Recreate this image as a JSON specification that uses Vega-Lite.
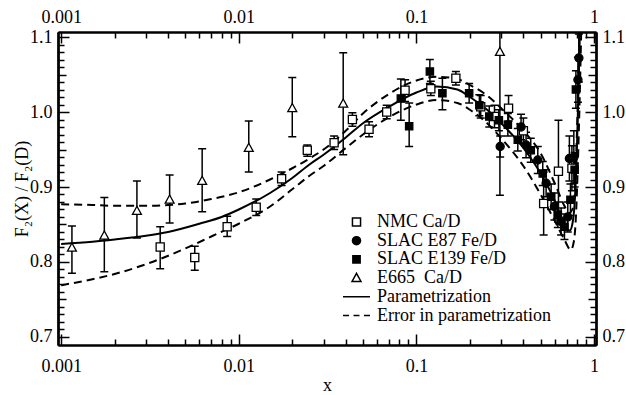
{
  "$schema": "https://vega.github.io/schema/vega-lite/v6.json",
  "width": 538,
  "height": 313,
  "autosize": {"type": "none"},
  "padding": {"left": 58, "top": 32, "right": 30, "bottom": 50},
  "background": "white",
  "config": {
    "view": {"stroke": null},
    "axis": {
      "domainColor": "black", "domainWidth": 2, "tickColor": "black", "tickWidth": 1.5,
      "labelFont": "Liberation Serif", "labelFontSize": 18, "labelColor": "black", "grid": false,
      "titleFont": "Liberation Serif", "titleFontSize": 18, "titleFontWeight": "normal", "titleColor": "black"
    }
  },
  "datasets": {
    "curves": [
      {"x": 0.001, "y": 0.824, "curve": "param"},
      {"x": 0.0015, "y": 0.827, "curve": "param"},
      {"x": 0.002, "y": 0.830, "curve": "param"},
      {"x": 0.003, "y": 0.835, "curve": "param"},
      {"x": 0.004, "y": 0.840, "curve": "param"},
      {"x": 0.006, "y": 0.851, "curve": "param"},
      {"x": 0.008, "y": 0.860, "curve": "param"},
      {"x": 0.01, "y": 0.870, "curve": "param"},
      {"x": 0.015, "y": 0.892, "curve": "param"},
      {"x": 0.02, "y": 0.912, "curve": "param"},
      {"x": 0.025, "y": 0.930, "curve": "param"},
      {"x": 0.03, "y": 0.943, "curve": "param"},
      {"x": 0.04, "y": 0.966, "curve": "param"},
      {"x": 0.05, "y": 0.985, "curve": "param"},
      {"x": 0.07, "y": 1.007, "curve": "param"},
      {"x": 0.1, "y": 1.026, "curve": "param"},
      {"x": 0.13, "y": 1.034, "curve": "param"},
      {"x": 0.17, "y": 1.030, "curve": "param"},
      {"x": 0.2, "y": 1.020, "curve": "param"},
      {"x": 0.25, "y": 1.003, "curve": "param"},
      {"x": 0.3, "y": 0.985, "curve": "param"},
      {"x": 0.4, "y": 0.952, "curve": "param"},
      {"x": 0.5, "y": 0.918, "curve": "param"},
      {"x": 0.6, "y": 0.882, "curve": "param"},
      {"x": 0.66, "y": 0.858, "curve": "param"},
      {"x": 0.7, "y": 0.845, "curve": "param"},
      {"x": 0.73, "y": 0.842, "curve": "param"},
      {"x": 0.76, "y": 0.855, "curve": "param"},
      {"x": 0.78, "y": 0.885, "curve": "param"},
      {"x": 0.8, "y": 0.950, "curve": "param"},
      {"x": 0.815, "y": 1.02, "curve": "param"},
      {"x": 0.83, "y": 1.12, "curve": "param"},

      {"x": 0.001, "y": 0.877, "curve": "upper"},
      {"x": 0.0015, "y": 0.876, "curve": "upper"},
      {"x": 0.002, "y": 0.875, "curve": "upper"},
      {"x": 0.003, "y": 0.875, "curve": "upper"},
      {"x": 0.004, "y": 0.876, "curve": "upper"},
      {"x": 0.005, "y": 0.878, "curve": "upper"},
      {"x": 0.007, "y": 0.884, "curve": "upper"},
      {"x": 0.01, "y": 0.893, "curve": "upper"},
      {"x": 0.015, "y": 0.910, "curve": "upper"},
      {"x": 0.02, "y": 0.925, "curve": "upper"},
      {"x": 0.025, "y": 0.938, "curve": "upper"},
      {"x": 0.03, "y": 0.950, "curve": "upper"},
      {"x": 0.04, "y": 0.975, "curve": "upper"},
      {"x": 0.05, "y": 0.998, "curve": "upper"},
      {"x": 0.07, "y": 1.024, "curve": "upper"},
      {"x": 0.1, "y": 1.042, "curve": "upper"},
      {"x": 0.13, "y": 1.047, "curve": "upper"},
      {"x": 0.17, "y": 1.044, "curve": "upper"},
      {"x": 0.2, "y": 1.036, "curve": "upper"},
      {"x": 0.25, "y": 1.022, "curve": "upper"},
      {"x": 0.3, "y": 1.005, "curve": "upper"},
      {"x": 0.4, "y": 0.975, "curve": "upper"},
      {"x": 0.5, "y": 0.945, "curve": "upper"},
      {"x": 0.6, "y": 0.905, "curve": "upper"},
      {"x": 0.68, "y": 0.875, "curve": "upper"},
      {"x": 0.72, "y": 0.865, "curve": "upper"},
      {"x": 0.76, "y": 0.872, "curve": "upper"},
      {"x": 0.78, "y": 0.900, "curve": "upper"},
      {"x": 0.8, "y": 0.970, "curve": "upper"},
      {"x": 0.82, "y": 1.060, "curve": "upper"},
      {"x": 0.835, "y": 1.13, "curve": "upper"},

      {"x": 0.001, "y": 0.769, "curve": "lower"},
      {"x": 0.0015, "y": 0.777, "curve": "lower"},
      {"x": 0.002, "y": 0.784, "curve": "lower"},
      {"x": 0.003, "y": 0.797, "curve": "lower"},
      {"x": 0.005, "y": 0.818, "curve": "lower"},
      {"x": 0.007, "y": 0.834, "curve": "lower"},
      {"x": 0.01, "y": 0.851, "curve": "lower"},
      {"x": 0.015, "y": 0.874, "curve": "lower"},
      {"x": 0.02, "y": 0.897, "curve": "lower"},
      {"x": 0.025, "y": 0.915, "curve": "lower"},
      {"x": 0.03, "y": 0.928, "curve": "lower"},
      {"x": 0.04, "y": 0.952, "curve": "lower"},
      {"x": 0.05, "y": 0.970, "curve": "lower"},
      {"x": 0.07, "y": 0.993, "curve": "lower"},
      {"x": 0.1, "y": 1.010, "curve": "lower"},
      {"x": 0.13, "y": 1.016, "curve": "lower"},
      {"x": 0.17, "y": 1.012, "curve": "lower"},
      {"x": 0.2, "y": 1.003, "curve": "lower"},
      {"x": 0.25, "y": 0.985, "curve": "lower"},
      {"x": 0.3, "y": 0.965, "curve": "lower"},
      {"x": 0.4, "y": 0.928, "curve": "lower"},
      {"x": 0.5, "y": 0.890, "curve": "lower"},
      {"x": 0.6, "y": 0.855, "curve": "lower"},
      {"x": 0.68, "y": 0.830, "curve": "lower"},
      {"x": 0.74, "y": 0.816, "curve": "lower"},
      {"x": 0.77, "y": 0.828, "curve": "lower"},
      {"x": 0.79, "y": 0.860, "curve": "lower"},
      {"x": 0.81, "y": 0.930, "curve": "lower"},
      {"x": 0.83, "y": 1.020, "curve": "lower"},
      {"x": 0.85, "y": 1.13, "curve": "lower"}
    ],
    "pts": [
      {"series": "E665 Ca/D", "x": 0.00115, "y": 0.819, "lo": 0.785, "hi": 0.848},
      {"series": "E665 Ca/D", "x": 0.00175, "y": 0.835, "lo": 0.787, "hi": 0.886},
      {"series": "E665 Ca/D", "x": 0.00267, "y": 0.868, "lo": 0.832, "hi": 0.908},
      {"series": "E665 Ca/D", "x": 0.00408, "y": 0.883, "lo": 0.852, "hi": 0.916},
      {"series": "E665 Ca/D", "x": 0.00622, "y": 0.908, "lo": 0.867, "hi": 0.951},
      {"series": "E665 Ca/D", "x": 0.01138, "y": 0.952, "lo": 0.920, "hi": 0.988},
      {"series": "E665 Ca/D", "x": 0.0200, "y": 1.005, "lo": 0.967, "hi": 1.046},
      {"series": "E665 Ca/D", "x": 0.0387, "y": 1.011, "lo": 0.943, "hi": 1.079},
      {"series": "E665 Ca/D", "x": 0.295, "y": 1.080, "lo": 0.889, "hi": 1.27},

      {"series": "NMC Ca/D", "x": 0.00361, "y": 0.820, "lo": 0.791, "hi": 0.847},
      {"series": "NMC Ca/D", "x": 0.00565, "y": 0.806, "lo": 0.789, "hi": 0.821},
      {"series": "NMC Ca/D", "x": 0.0086, "y": 0.847, "lo": 0.834, "hi": 0.861},
      {"series": "NMC Ca/D", "x": 0.01253, "y": 0.873, "lo": 0.862, "hi": 0.884},
      {"series": "NMC Ca/D", "x": 0.01742, "y": 0.911, "lo": 0.902, "hi": 0.920},
      {"series": "NMC Ca/D", "x": 0.0243, "y": 0.949, "lo": 0.941, "hi": 0.956},
      {"series": "NMC Ca/D", "x": 0.0344, "y": 0.959, "lo": 0.950, "hi": 0.968},
      {"series": "NMC Ca/D", "x": 0.0436, "y": 0.990, "lo": 0.981, "hi": 0.999},
      {"series": "NMC Ca/D", "x": 0.0541, "y": 0.977, "lo": 0.967, "hi": 0.987},
      {"series": "NMC Ca/D", "x": 0.068, "y": 1.000, "lo": 0.991, "hi": 1.009},
      {"series": "NMC Ca/D", "x": 0.0863, "y": 1.029, "lo": 1.014, "hi": 1.043},
      {"series": "NMC Ca/D", "x": 0.1205, "y": 1.031, "lo": 1.022, "hi": 1.041},
      {"series": "NMC Ca/D", "x": 0.1667, "y": 1.045, "lo": 1.036, "hi": 1.054},
      {"series": "NMC Ca/D", "x": 0.23, "y": 1.007, "lo": 0.992, "hi": 1.022},
      {"series": "NMC Ca/D", "x": 0.275, "y": 0.994, "lo": 0.979, "hi": 1.009},
      {"series": "NMC Ca/D", "x": 0.33, "y": 1.005, "lo": 0.988, "hi": 1.022},
      {"series": "NMC Ca/D", "x": 0.40, "y": 0.975, "lo": 0.958, "hi": 0.992},
      {"series": "NMC Ca/D", "x": 0.52, "y": 0.878, "lo": 0.836, "hi": 0.920},
      {"series": "NMC Ca/D", "x": 0.63, "y": 0.921, "lo": 0.853, "hi": 0.989},
      {"series": "NMC Ca/D", "x": 0.75, "y": 0.925, "lo": 0.895, "hi": 0.955},

      {"series": "SLAC E87 Fe/D", "x": 0.296, "y": 0.954, "lo": 0.940, "hi": 0.968},
      {"series": "SLAC E87 Fe/D", "x": 0.388, "y": 0.980, "lo": 0.963, "hi": 0.997},
      {"series": "SLAC E87 Fe/D", "x": 0.414, "y": 0.956, "lo": 0.939, "hi": 0.973},
      {"series": "SLAC E87 Fe/D", "x": 0.482, "y": 0.936, "lo": 0.918, "hi": 0.954},
      {"series": "SLAC E87 Fe/D", "x": 0.537, "y": 0.905, "lo": 0.887, "hi": 0.923},
      {"series": "SLAC E87 Fe/D", "x": 0.598, "y": 0.874, "lo": 0.856, "hi": 0.892},
      {"series": "SLAC E87 Fe/D", "x": 0.652, "y": 0.854, "lo": 0.836, "hi": 0.872},
      {"series": "SLAC E87 Fe/D", "x": 0.711, "y": 0.860, "lo": 0.840, "hi": 0.880},
      {"series": "SLAC E87 Fe/D", "x": 0.726, "y": 0.938, "lo": 0.908, "hi": 0.968},
      {"series": "SLAC E87 Fe/D", "x": 0.769, "y": 0.940, "lo": 0.905, "hi": 0.975},
      {"series": "SLAC E87 Fe/D", "x": 0.811, "y": 1.043, "lo": 1.013, "hi": 1.073},
      {"series": "SLAC E87 Fe/D", "x": 0.821, "y": 1.072, "lo": 1.040, "hi": 1.104},

      {"series": "SLAC E139 Fe/D", "x": 0.0817, "y": 1.018, "lo": 0.989, "hi": 1.044},
      {"series": "SLAC E139 Fe/D", "x": 0.091, "y": 0.981, "lo": 0.954, "hi": 1.012},
      {"series": "SLAC E139 Fe/D", "x": 0.119, "y": 1.054, "lo": 1.038, "hi": 1.070},
      {"series": "SLAC E139 Fe/D", "x": 0.140, "y": 1.025, "lo": 1.003, "hi": 1.045},
      {"series": "SLAC E139 Fe/D", "x": 0.198, "y": 1.025, "lo": 1.012, "hi": 1.038},
      {"series": "SLAC E139 Fe/D", "x": 0.226, "y": 1.009, "lo": 0.995, "hi": 1.023},
      {"series": "SLAC E139 Fe/D", "x": 0.257, "y": 0.994, "lo": 0.980, "hi": 1.008},
      {"series": "SLAC E139 Fe/D", "x": 0.291, "y": 0.989, "lo": 0.975, "hi": 1.003},
      {"series": "SLAC E139 Fe/D", "x": 0.327, "y": 0.983, "lo": 0.968, "hi": 0.998},
      {"series": "SLAC E139 Fe/D", "x": 0.372, "y": 0.963, "lo": 0.948, "hi": 0.978},
      {"series": "SLAC E139 Fe/D", "x": 0.44, "y": 0.949, "lo": 0.933, "hi": 0.965},
      {"series": "SLAC E139 Fe/D", "x": 0.514, "y": 0.918, "lo": 0.902, "hi": 0.934},
      {"series": "SLAC E139 Fe/D", "x": 0.573, "y": 0.887, "lo": 0.870, "hi": 0.904},
      {"series": "SLAC E139 Fe/D", "x": 0.625, "y": 0.863, "lo": 0.846, "hi": 0.880},
      {"series": "SLAC E139 Fe/D", "x": 0.681, "y": 0.847, "lo": 0.830, "hi": 0.864},
      {"series": "SLAC E139 Fe/D", "x": 0.736, "y": 0.883, "lo": 0.862, "hi": 0.904},
      {"series": "SLAC E139 Fe/D", "x": 0.777, "y": 0.923, "lo": 0.900, "hi": 0.946},
      {"series": "SLAC E139 Fe/D", "x": 0.79, "y": 1.030, "lo": 1.005, "hi": 1.055}
    ]
  },
  "layer": [
    {
      "data": {"name": "curves"},
      "transform": [{"filter": "datum.curve === 'param'"}],
      "mark": {"type": "line", "color": "black", "strokeWidth": 2, "clip": true, "interpolate": "monotone"},
      "encoding": {
        "x": {"field": "x", "type": "quantitative", "scale": {"type": "log", "domain": [0.00096, 1.025], "nice": false},
          "axis": {"orient": "bottom", "values": [0.001, 0.01, 0.1, 1], "format": "~g", "tickSize": -11, "labelPadding": 23, "title": "x", "titlePadding": 1}},
        "y": {"field": "y", "type": "quantitative", "scale": {"domain": [0.6893, 1.1067], "nice": false, "zero": false},
          "axis": {"orient": "left", "values": [0.7, 0.8, 0.9, 1.0, 1.1], "format": ".1f", "tickSize": -11, "labelPadding": 17, "title": "F₂(X) / F₂(D)", "titlePadding": -2}}
      }
    },
    {
      "data": {"name": "curves"},
      "transform": [{"filter": "datum.curve !== 'param'"}],
      "mark": {"type": "line", "color": "black", "strokeWidth": 2, "strokeDash": [8, 5], "clip": true, "interpolate": "monotone"},
      "encoding": {
        "x": {"field": "x", "type": "quantitative", "scale": {"type": "log", "domain": [0.00096, 1.025], "nice": false},
          "axis": {"orient": "bottom", "values": [0.002, 0.003, 0.004, 0.005, 0.006, 0.007, 0.008, 0.009, 0.02, 0.03, 0.04, 0.05, 0.06, 0.07, 0.08, 0.09, 0.2, 0.3, 0.4, 0.5, 0.6, 0.7, 0.8, 0.9], "tickSize": -6, "labels": false, "title": null}},
        "y": {"field": "y", "type": "quantitative", "scale": {"domain": [0.6893, 1.1067], "nice": false, "zero": false},
          "axis": {"orient": "left", "values": [0.71, 0.72, 0.73, 0.74, 0.76, 0.77, 0.78, 0.79, 0.81, 0.82, 0.83, 0.84, 0.86, 0.87, 0.88, 0.89, 0.91, 0.92, 0.93, 0.94, 0.96, 0.97, 0.98, 0.99, 1.01, 1.02, 1.03, 1.04, 1.06, 1.07, 1.08, 1.09], "tickSize": -6, "labels": false, "title": null}},
        "detail": {"field": "curve"}
      }
    },
    {
      "data": {"name": "pts"},
      "mark": {"type": "rule", "color": "black", "strokeWidth": 1.5, "clip": true},
      "encoding": {
        "x": {"field": "x", "type": "quantitative", "scale": {"type": "log", "domain": [0.00096, 1.025], "nice": false},
          "axis": {"orient": "top", "values": [0.001, 0.01, 0.1, 1], "format": "~g", "tickSize": -11, "labelPadding": 17, "title": null}},
        "y": {"field": "lo", "type": "quantitative", "scale": {"domain": [0.6893, 1.1067], "nice": false, "zero": false},
          "axis": {"orient": "right", "values": [0.7, 0.8, 0.9, 1.0, 1.1], "format": ".1f", "tickSize": -11, "labelPadding": 17, "title": null}},
        "y2": {"field": "hi"}
      }
    },
    {
      "data": {"name": "pts"},
      "mark": {"type": "tick", "orient": "horizontal", "color": "black", "size": 8, "thickness": 1.5, "opacity": 1, "clip": true},
      "encoding": {
        "x": {"field": "x", "type": "quantitative", "scale": {"type": "log", "domain": [0.00096, 1.025], "nice": false},
          "axis": {"orient": "top", "values": [0.002, 0.003, 0.004, 0.005, 0.006, 0.007, 0.008, 0.009, 0.02, 0.03, 0.04, 0.05, 0.06, 0.07, 0.08, 0.09, 0.2, 0.3, 0.4, 0.5, 0.6, 0.7, 0.8, 0.9], "tickSize": -6, "labels": false, "title": null}},
        "y": {"field": "lo", "type": "quantitative", "scale": {"domain": [0.6893, 1.1067], "nice": false, "zero": false},
          "axis": {"orient": "right", "values": [0.71, 0.72, 0.73, 0.74, 0.76, 0.77, 0.78, 0.79, 0.81, 0.82, 0.83, 0.84, 0.86, 0.87, 0.88, 0.89, 0.91, 0.92, 0.93, 0.94, 0.96, 0.97, 0.98, 0.99, 1.01, 1.02, 1.03, 1.04, 1.06, 1.07, 1.08, 1.09], "tickSize": -6, "labels": false, "title": null}}
      }
    },
    {
      "data": {"name": "pts"},
      "mark": {"type": "tick", "orient": "horizontal", "color": "black", "size": 8, "thickness": 1.5, "opacity": 1, "clip": true},
      "encoding": {
        "x": {"field": "x", "type": "quantitative", "scale": {"type": "log", "domain": [0.00096, 1.025], "nice": false}, "axis": null},
        "y": {"field": "hi", "type": "quantitative", "scale": {"domain": [0.6893, 1.1067], "nice": false, "zero": false},
          "axis": {"orient": "left", "values": [0.75, 0.85, 0.95, 1.05], "tickSize": -8, "labels": false, "title": null}}
      }
    },
    {
      "data": {"name": "pts"},
      "mark": {"type": "point", "filled": true, "stroke": "black", "strokeWidth": 1.3, "opacity": 1, "size": 729, "clip": true},
      "encoding": {
        "x": {"field": "x", "type": "quantitative", "scale": {"type": "log", "domain": [0.00096, 1.025], "nice": false}, "axis": null},
        "y": {"field": "y", "type": "quantitative", "scale": {"domain": [0.6893, 1.1067], "nice": false, "zero": false},
          "axis": {"orient": "right", "values": [0.75, 0.85, 0.95, 1.05], "tickSize": -8, "labels": false, "title": null}},
        "shape": {
          "field": "series", "type": "nominal",
          "scale": {
            "domain": ["NMC Ca/D", "SLAC E87 Fe/D", "SLAC E139 Fe/D", "E665 Ca/D", "Parametrization", "Error in parametrization"],
            "range": [
              "M-0.3,-0.3H0.3V0.3H-0.3Z",
              "M-0.3,0A0.3,0.3,0,1,1,0.3,0A0.3,0.3,0,1,1,-0.3,0Z",
              "M-0.27,-0.27H0.27V0.27H-0.27Z",
              "M0,-0.35L0.33,0.25L-0.33,0.25Z",
              "M-1,0H1",
              "M-1,0H-0.55M-0.22,0H0.22M0.55,0H1"
            ]
          },
          "legend": {
            "orient": "none", "legendX": 284, "legendY": 181, "title": null, "padding": 0,
            "symbolSize": 729, "symbolStrokeWidth": 1.5, "labelFont": "Liberation Serif", "labelFontSize": 18, "labelColor": "black",
            "labelOffset": 6, "rowPadding": 0.7, "clipHeight": 18, "labelLimit": 400,
            "labelExpr": "datum.label === 'E665 Ca/D' ? 'E665\u00a0\u00a0Ca/D' : datum.label"
          }
        },
        "fill": {
          "field": "series", "type": "nominal",
          "scale": {
            "domain": ["NMC Ca/D", "SLAC E87 Fe/D", "SLAC E139 Fe/D", "E665 Ca/D", "Parametrization", "Error in parametrization"],
            "range": ["white", "black", "black", "white", "white", "white"]
          },
          "legend": null
        }
      }
    }
  ]
}
